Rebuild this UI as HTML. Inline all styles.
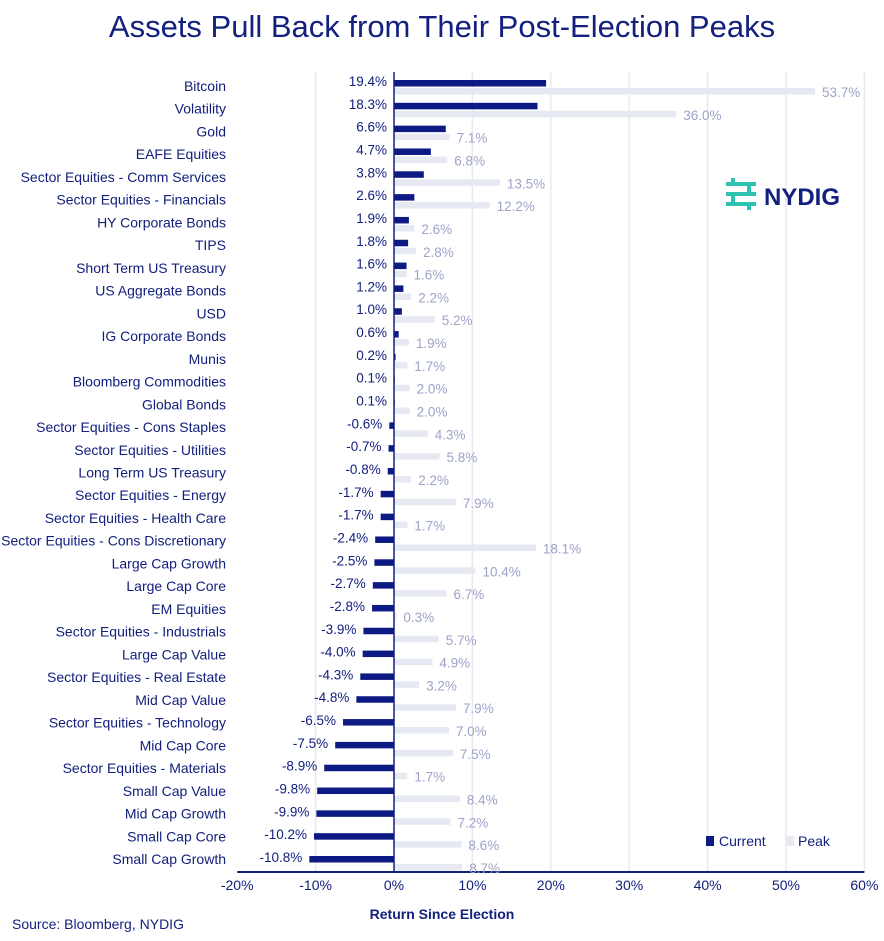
<!DOCTYPE html>
<html><head><meta charset="utf-8"><style>
body{margin:0;background:#fff;width:884px;height:936px;overflow:hidden;font-family:"Liberation Sans",sans-serif}
</style></head><body>
<svg width="884" height="936" id="c" xmlns="http://www.w3.org/2000/svg">
<text x="442" y="37" text-anchor="middle" font-size="31" fill="#13207e">Assets Pull Back from Their Post-Election Peaks</text>
<g id="grid"></g><g id="bars"></g>
<g>
<g fill="none" stroke="#2cc3b1" stroke-width="4">
<path d="M726 184 H756 M726 194 H756 M726 204 H756 M733 178 V184 M749 204 V210 M733 194 V204 M749 184 V194"/>
</g>
<text x="764" y="205" font-size="24" font-weight="bold" fill="#13207e">NYDIG</text>
</g>
<g>
<rect x="706" y="836" width="8" height="10" fill="#0d1a84"/>
<text x="719" y="846" font-size="14" fill="#13207e">Current</text>
<rect x="786" y="836" width="8" height="10" fill="#e6e8f2"/>
<text x="798" y="846" font-size="14" fill="#13207e">Peak</text>
</g>
<text x="442" y="919" text-anchor="middle" font-size="14" font-weight="bold" fill="#13207e">Return Since Election</text>
<text x="12" y="929" font-size="14" fill="#13207e">Source: Bloomberg, NYDIG</text>
</svg>
<script>
const categories=["Bitcoin","Volatility","Gold","EAFE Equities","Sector Equities - Comm Services","Sector Equities - Financials","HY Corporate Bonds","TIPS","Short Term US Treasury","US Aggregate Bonds","USD","IG Corporate Bonds","Munis","Bloomberg Commodities","Global Bonds","Sector Equities - Cons Staples","Sector Equities - Utilities","Long Term US Treasury","Sector Equities - Energy","Sector Equities - Health Care","Sector Equities - Cons Discretionary","Large Cap Growth","Large Cap Core","EM Equities","Sector Equities - Industrials","Large Cap Value","Sector Equities - Real Estate","Mid Cap Value","Sector Equities - Technology","Mid Cap Core","Sector Equities - Materials","Small Cap Value","Mid Cap Growth","Small Cap Core","Small Cap Growth"];
const current=[19.4,18.3,6.6,4.7,3.8,2.6,1.9,1.8,1.6,1.2,1.0,0.6,0.2,0.1,0.1,-0.6,-0.7,-0.8,-1.7,-1.7,-2.4,-2.5,-2.7,-2.8,-3.9,-4.0,-4.3,-4.8,-6.5,-7.5,-8.9,-9.8,-9.9,-10.2,-10.8];
const peak=[53.7,36.0,7.1,6.8,13.5,12.2,2.6,2.8,1.6,2.2,5.2,1.9,1.7,2.0,2.0,4.3,5.8,2.2,7.9,1.7,18.1,10.4,6.7,0.3,5.7,4.9,3.2,7.9,7.0,7.5,1.7,8.4,7.2,8.6,8.7];
const ticks=[-20,-10,0,10,20,30,40,50,60];
const NS="http://www.w3.org/2000/svg";
const x=v=>394+v*7.84;
const y0=80,step=(856-80)/34;
const yRow=i=>y0+i*step;
function mk(tag,attrs,parent,text){const e=document.createElementNS(NS,tag);for(const k in attrs)e.setAttribute(k,attrs[k]);if(text!=null)e.textContent=text;parent.appendChild(e);return e;}
const grid=document.getElementById('grid'),bars=document.getElementById('bars');
ticks.forEach(t=>{
 if(t!==0&&t!==-20){const l=mk('line',{x1:x(t),x2:x(t),y1:72,y2:872,stroke:'#e8e9ef','stroke-width':1.5},grid);
 
 }
 const tx=mk('text',{x:x(t),y:890,'text-anchor':'middle','font-size':14,fill:'#13207e'},grid,t+'%');
 
 
});
const ax=mk('line',{x1:x(-20),x2:x(60),y1:872,y2:872,stroke:'#13207e','stroke-width':2},grid);


categories.forEach((c,i)=>{
 const yt=yRow(i);
 const lb=mk('text',{x:226,y:80+i*((859-86)/34)+11,'text-anchor':'end','font-size':14,fill:'#13207e'},bars,c);
 
 
 const cv=current[i],pv=peak[i];
 const cb=mk('rect',{x:Math.min(x(0),x(cv)),y:yt,width:Math.abs(x(cv)-x(0)),height:6.5,fill:'#0d1a84'},bars);
 
 
 const pb=mk('rect',{x:Math.min(x(0),x(pv)),y:yt+8,width:Math.abs(x(pv)-x(0)),height:6.5,fill:'#e6e8f2'},bars);
 
 
 const cl=mk('text',{x:Math.min(x(0),x(cv))-7,y:yt+6,'text-anchor':'end','font-size':13.5,fill:'#13207e'},bars,cv.toFixed(1)+'%');
 
 
 const pl=mk('text',{x:Math.max(x(0),x(pv))+7,y:yt+17,'font-size':13.5,fill:'#9da3c8'},bars,pv.toFixed(1)+'%');
 
 
});
const z=mk('line',{x1:x(0),x2:x(0),y1:72,y2:872,stroke:'#13207e','stroke-width':1.5},bars);


</script>
</body></html>
